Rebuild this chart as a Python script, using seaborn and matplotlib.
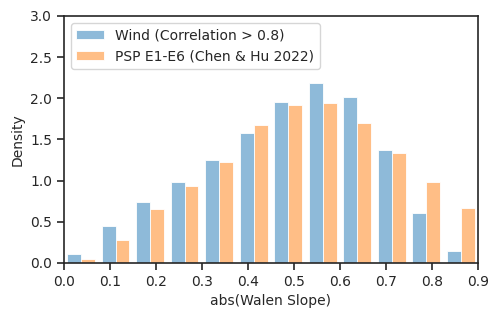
import matplotlib
matplotlib.use('Agg')
import matplotlib.pyplot as plt
import numpy as np
import pandas as pd
import seaborn as sns

# bin edges of abs(Walen slope), width 0.075
bin_edges = [0.0, 0.075, 0.15, 0.225, 0.3, 0.375, 0.45, 0.525, 0.6, 0.675, 0.75, 0.825, 0.9]
bin_centers = [(a + b) / 2 for a, b in zip(bin_edges[:-1], bin_edges[1:])]

# density per bin
wind_density = [0.106, 0.45, 0.74, 0.98, 1.248, 1.58, 1.95, 2.187, 2.01, 1.373, 0.60, 0.14]
psp_density = [0.045, 0.28, 0.66, 0.935, 1.23, 1.67, 1.92, 1.944, 1.705, 1.33, 0.98, 0.67]

wind_label = 'Wind (Correlation > 0.8)'
psp_label = 'PSP E1-E6 (Chen & Hu 2022)'

df = pd.DataFrame({
    'slope': bin_centers + bin_centers,
    'density': wind_density + psp_density,
    'source': [wind_label] * len(wind_density) + [psp_label] * len(psp_density),
})

sns.set_style('ticks')
fig, ax = plt.subplots(figsize=(4.99, 3.19), dpi=100)
fig.subplots_adjust(left=0.128, right=0.958, top=0.95, bottom=0.176)

sns.histplot(data=df, x='slope', weights='density', hue='source',
             hue_order=[wind_label, psp_label], bins=bin_edges,
             multiple='dodge', shrink=0.8, stat='count', alpha=0.5,
             palette=['tab:blue', 'tab:orange'], edgecolor='white',
             linewidth=0.6, ax=ax)

ax.set_xlim(0, 0.9)
ax.set_ylim(0, 3.0)
ax.set_xticks(np.arange(0, 0.91, 0.1))
ax.set_yticks(np.arange(0, 3.01, 0.5))
ax.set_xlabel('abs(Walen Slope)', fontsize=10)
ax.set_ylabel('Density', fontsize=10)
ax.tick_params(labelsize=10, length=5, width=1.2, color='.15')
for s in ax.spines.values():
    s.set_linewidth(1.2)
    s.set_color('.15')

sns.move_legend(ax, 'upper left', title=None, fontsize=10, frameon=True)

plt.savefig('out.png', dpi=100)
plt.close()
